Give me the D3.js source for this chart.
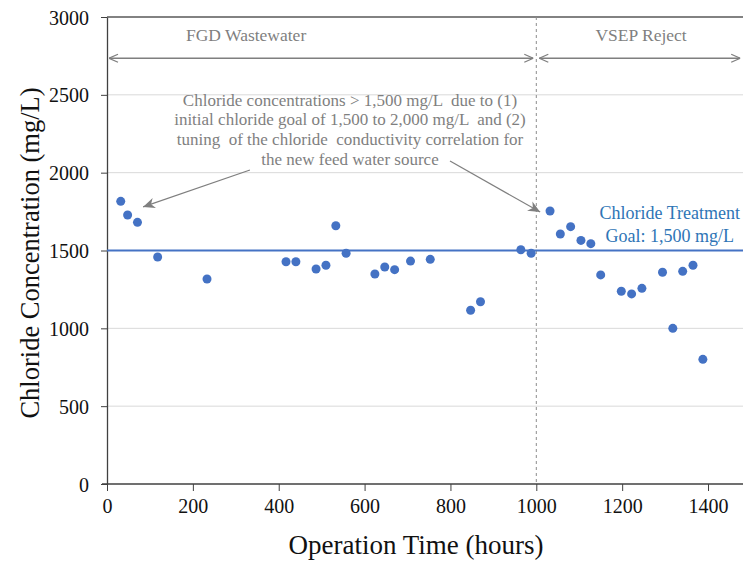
<!DOCTYPE html>
<html>
<head>
<meta charset="utf-8">
<script src="https://cdn.jsdelivr.net/npm/d3@7"></script>
<style>
  body { margin: 0; background: #fff; }
  svg { display: block; }
  text { font-family: "Liberation Serif", "Times New Roman", serif; }
</style>
</head>
<body>
<script>
// chloride readings (hours, mg/L)
const hours = [32, 48, 71, 118, 233, 417, 440, 487, 510, 533, 557, 624, 647, 670, 707, 753, 847, 870, 964, 988,
               1032, 1056, 1080, 1104, 1127, 1150, 1198, 1222, 1246, 1294, 1318, 1341, 1365, 1388];
const chloride = [1816, 1728, 1681, 1458, 1317, 1428, 1428, 1381, 1405, 1659, 1482, 1349, 1394, 1377, 1432, 1443, 1116, 1171, 1505, 1482,
                  1754, 1606, 1653, 1565, 1544, 1343, 1238, 1221, 1257, 1360, 1000, 1366, 1405, 801];
const xTicks = [0, 200, 400, 600, 800, 1000, 1200, 1400];
const yTicks = [0, 500, 1000, 1500, 2000, 2500, 3000];
const goal = 1500;
const switchHour = 1000;
const phaseNames = ["FGD Wastewater", "VSEP Reject"];
const phaseStart = [0, 1000];
const phaseEnd = [1000, 1475];
const noteLines = [
  "Chloride concentrations > 1,500 mg/L  due to (1)",
  "initial chloride goal of 1,500 to 2,000 mg/L  and (2)",
  "tuning  of the chloride  conductivity correlation for",
  "the new feed water source"
];
const goalLines = ["Chloride Treatment", "Goal: 1,500 mg/L"];

const w = 743, h = 562;
const margin = { left: 107, top: 17, bottom: 78 };

const svg = d3.select("body").append("svg")
  .attr("width", w)
  .attr("height", h);

const x = d3.scaleLinear().domain([0, 1500]).range([margin.left, margin.left + 1500 * 0.4293]);
const y = d3.scaleLinear().domain([0, 3000]).range([h - margin.bottom, margin.top]);

const grey = "#7f7f7f";
const blue = "#4472c4";

// gridlines
svg.append("g")
  .selectAll("line")
  .data(yTicks.filter(d => d > 0 && d < 3000))
  .enter().append("line")
  .attr("x1", x(0)).attr("x2", w)
  .attr("y1", d => y(d)).attr("y2", d => y(d))
  .attr("stroke", "#d9d9d9")
  .attr("stroke-width", 1);

// top border
svg.append("line")
  .attr("x1", x(0)).attr("x2", w)
  .attr("y1", y(3000)).attr("y2", y(3000))
  .attr("stroke", "#595959")
  .attr("stroke-width", 1.5);

// axes
const xAxis = svg.append("g")
  .attr("transform", `translate(0,${y(0)})`)
  .call(d3.axisBottom(x).tickValues(xTicks).tickFormat(d3.format("d"))
    .tickSize(7).tickSizeOuter(0).tickPadding(8));
xAxis.select(".domain").attr("d", `M${x(0) - 5},0H${w}`);

const yAxis = svg.append("g")
  .attr("transform", `translate(${x(0)},0)`)
  .call(d3.axisLeft(y).tickValues(yTicks).tickFormat(d3.format("d"))
    .tickSize(6).tickSizeOuter(0).tickPadding(12));

svg.selectAll("g").attr("font-family", null);
svg.selectAll(".domain").attr("stroke", "#404040").attr("stroke-width", 1.3);
svg.selectAll(".tick line").attr("stroke", "#404040");
svg.selectAll(".tick text")
  .attr("font-size", 20)
  .attr("fill", "#111");
yAxis.selectAll(".tick text").attr("dy", "0.35em");

// axis titles
svg.append("text")
  .attr("x", 416).attr("y", 554)
  .attr("text-anchor", "middle")
  .attr("font-size", 27)
  .attr("fill", "#111")
  .text("Operation Time (hours)");

svg.append("text")
  .attr("transform", "translate(39,253) rotate(-90)")
  .attr("text-anchor", "middle")
  .attr("font-size", 26.5)
  .attr("fill", "#111")
  .text("Chloride Concentration (mg/L)");

// phase switch
svg.append("line")
  .attr("x1", x(switchHour)).attr("x2", x(switchHour))
  .attr("y1", y(3000)).attr("y2", y(0))
  .attr("stroke", "#8c8c8c")
  .attr("stroke-dasharray", "3,3")
  .attr("stroke-width", 1);

// arrow markers
const defs = svg.append("defs");
defs.append("marker")
  .attr("id", "chev")
  .attr("viewBox", "0 0 10 10")
  .attr("refX", 10).attr("refY", 5)
  .attr("markerWidth", 10).attr("markerHeight", 10)
  .attr("markerUnits", "userSpaceOnUse")
  .attr("orient", "auto-start-reverse")
  .append("path")
  .attr("d", "M1,1 L10,5 L1,9")
  .attr("fill", "none")
  .attr("stroke", grey)
  .attr("stroke-width", 1.3);

defs.append("marker")
  .attr("id", "tri")
  .attr("viewBox", "0 0 10 10")
  .attr("refX", 10).attr("refY", 5)
  .attr("markerWidth", 12).attr("markerHeight", 12)
  .attr("markerUnits", "userSpaceOnUse")
  .attr("orient", "auto")
  .append("path")
  .attr("d", "M0,0.5 L10,5 L0,9.5 L3,5 Z")
  .attr("fill", grey);

// phase arrows and labels
const phaseY = 2735;
svg.append("g")
  .selectAll("line")
  .data(phaseNames)
  .enter().append("line")
  .attr("x1", (d, i) => x(phaseStart[i]) + (i ? 3 : 2))
  .attr("x2", (d, i) => x(phaseEnd[i]) - (i ? 0 : 3))
  .attr("y1", y(phaseY)).attr("y2", y(phaseY))
  .attr("stroke", grey)
  .attr("stroke-width", 1.3)
  .attr("marker-start", "url(#chev)")
  .attr("marker-end", "url(#chev)");

svg.append("g")
  .selectAll("text")
  .data(phaseNames)
  .enter().append("text")
  .attr("x", (d, i) => x(i ? 1244 : 324))
  .attr("y", y(2845))
  .attr("text-anchor", "middle")
  .attr("font-size", 17.5)
  .attr("fill", grey)
  .text(d => d);

// note
svg.append("g")
  .selectAll("text")
  .data(noteLines)
  .enter().append("text")
  .attr("x", x(566))
  .attr("y", (d, i) => y(2430) + i * 19.7)
  .attr("text-anchor", "middle")
  .attr("font-size", 17)
  .attr("fill", grey)
  .attr("xml:space", "preserve")
  .text(d => d);

const noteFrom = [[333, 2017], [799, 2075]];
const noteTo = [[84, 1780], [1009, 1747]];
svg.append("g")
  .selectAll("line")
  .data(noteFrom)
  .enter().append("line")
  .attr("x1", d => x(d[0])).attr("y1", d => y(d[1]))
  .attr("x2", (d, i) => x(noteTo[i][0])).attr("y2", (d, i) => y(noteTo[i][1]))
  .attr("stroke", grey)
  .attr("stroke-width", 1.2)
  .attr("marker-end", "url(#tri)");

// goal line
svg.append("line")
  .attr("x1", x(0)).attr("x2", w)
  .attr("y1", y(goal)).attr("y2", y(goal))
  .attr("stroke", blue)
  .attr("stroke-width", 2.2);

svg.append("g")
  .selectAll("text")
  .data(goalLines)
  .enter().append("text")
  .attr("x", x(1311))
  .attr("y", (d, i) => y(1705) + i * 23)
  .attr("text-anchor", "middle")
  .attr("font-size", 18)
  .attr("fill", "#2e75b6")
  .text(d => d);

// readings
svg.append("g")
  .selectAll("circle")
  .data(hours)
  .enter().append("circle")
  .attr("cx", d => x(d))
  .attr("cy", (d, i) => y(chloride[i]))
  .attr("r", 4.5)
  .attr("fill", blue);
</script>
</body>
</html>
